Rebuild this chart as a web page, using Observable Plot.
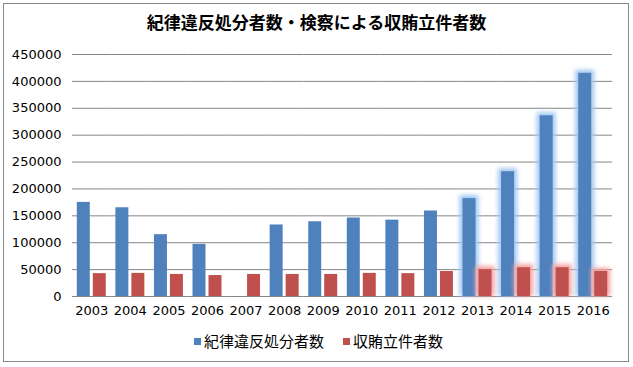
<!DOCTYPE html>
<html>
<head>
<meta charset="utf-8">
<script src="https://cdn.jsdelivr.net/npm/d3@7"></script>
<script src="https://cdn.jsdelivr.net/npm/@observablehq/plot@0.6"></script>
<style>
  body { margin: 0; background: #fff; }
  #wrap { position: relative; width: 633px; height: 367px; overflow: hidden; background: #fff; }
  #frame { position: absolute; left: 3px; top: 3px; width: 626px; height: 359px; box-sizing: border-box; border: 1px solid #888; }
  #title { position: absolute; left: 0; width: 633px; top: 12px; text-align: center; font-family: "Noto Sans CJK JP", sans-serif; font-weight: bold; font-size: 17px; line-height: 20px; color: #000; }
  #chart { position: absolute; left: 0; top: 0; }
  #legend { position: absolute; top: 332px; left: 194px; display: flex; align-items: center; font-family: "Noto Sans CJK JP", sans-serif; font-size: 15px; line-height: 18px; color: #000; }
  .sw { width: 7px; height: 7px; display: inline-block; margin-right: 3px; }
  .item { display: flex; align-items: center; margin-right: 19px; }
</style>
</head>
<body>
<div id="wrap">
  <div id="frame"></div>
  <div id="chart"></div>
  <div id="title"></div>
  <div id="legend"></div>
</div>
<script>
const titleText = "紀律違反処分者数・検察による収賄立件者数";
const years = [2003, 2004, 2005, 2006, 2007, 2008, 2009, 2010, 2011, 2012, 2013, 2014, 2015, 2016];
const seriesNames = ["紀律違反処分者数", "収賄立件者数"];
const seriesColors = ["#4f81bd", "#c0504d"];
const glowColors = ["#a3c8f2", "#f4a3a3"];
const discipline = [175000, 165000, 115000, 97000, null, 133000, 139000, 146000, 142000, 159000, 182000, 232000, 336000, 415000];
const bribery = [42500, 43000, 41000, 39000, 41000, 41000, 41000, 43000, 42500, 46500, 50000, 53500, 53500, 46500];
const glowYears = [2013, 2014, 2015, 2016];
const yTicks = [0, 50000, 100000, 150000, 200000, 250000, 300000, 350000, 400000, 450000];

const seriesValues = [discipline, bribery];
const rows = [];
years.forEach((yr, i) => {
  seriesNames.forEach((s, k) => {
    const v = seriesValues[k][i];
    if (v != null) rows.push({year: String(yr), series: s, value: v, glow: glowYears.includes(yr)});
  });
});

const marks = [Plot.gridY(yTicks, {stroke: "#868686", strokeOpacity: 1})];
seriesNames.forEach((s, k) => {
  marks.push(Plot.barY(rows.filter(d => d.series === s && d.glow), {
    fx: "year", x: "series", y: "value", fill: glowColors[k],
    insetLeft: -3, insetRight: -3, insetTop: -3
  }));
  marks.push(Plot.barY(rows.filter(d => d.series === s), {
    fx: "year", x: "series", y: "value", fill: seriesColors[k]
  }));
});

const svg = Plot.plot({
  width: 633, height: 367,
  marginLeft: 72, marginRight: 21, marginTop: 54, marginBottom: 71,
  style: {fontFamily: "DejaVu Sans, Verdana, sans-serif", fontSize: "13px", color: "#000", background: "transparent", overflow: "visible"},
  fx: {domain: years.map(String), padding: 0, round: false, axis: "bottom", label: null, tickSize: 0, tickPadding: 9},
  x: {domain: seriesNames, paddingInner: 0.1875, paddingOuter: 0.3, round: false, axis: null},
  y: {domain: [0, 450000], ticks: yTicks, tickSize: 0, tickPadding: 11, label: null, tickFormat: d => String(d)},
  marks
});

const s = d3.select(svg);
s.append("defs").html('<filter id="glow" x="-100%" y="-50%" width="300%" height="200%"><feGaussianBlur stdDeviation="2"/></filter>');
glowColors.forEach(c => s.selectAll(`g[fill="${c}"]`).attr("filter", "url(#glow)"));

document.getElementById("chart").appendChild(svg);
document.getElementById("title").textContent = titleText;
const legend = document.getElementById("legend");
seriesNames.forEach((n, k) => {
  const it = document.createElement("div");
  it.className = "item";
  const sw = document.createElement("span");
  sw.className = "sw";
  sw.style.background = seriesColors[k];
  const t = document.createElement("span");
  t.textContent = n;
  it.appendChild(sw); it.appendChild(t);
  legend.appendChild(it);
});
</script>
</body>
</html>
